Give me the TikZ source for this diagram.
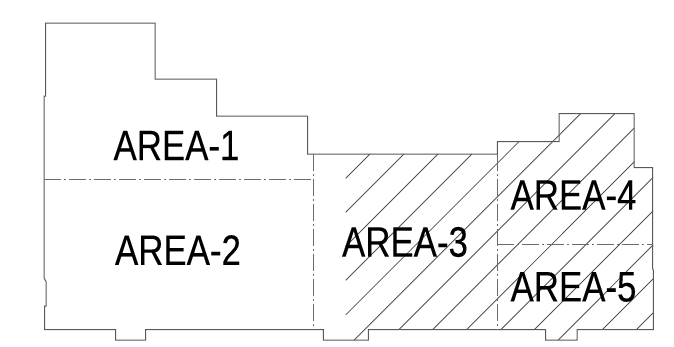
\documentclass[tikz,border=0pt]{standalone}
\usepackage{fontspec}
\setmainfont{Liberation Sans}[FakeBold=0.2]
\tikzset{
  wall/.style={draw=black!65,line width=1pt,line join=miter},
  split/.style={draw=black!58,line width=1pt,dash pattern=on 17pt off 3pt on 2pt off 3pt},
  hatchline/.style={draw=black!68,line width=0.85pt},
  arealabel/.style={font=\fontsize{42.5}{42.5}\selectfont,xscale=0.82,transform shape,inner sep=0pt,text=black}
}
\begin{document}
\begin{tikzpicture}[x=1pt,y=-1pt]
\useasboundingbox (0,0) rectangle (674,346);
\fill[white] (0,0) rectangle (674,346);
% hatching
\foreach \sx/\sy/\ex/\ey in {
 370/154/345.7/178.3, 404/154/345.7/212.3, 438/154/345.7/246.3, 472/154/345.7/280.3,
 519/141.6/345.7/314.9, 580.7/113.5/354.2/340, 615/113.5/399/329.5,
 634/128.3/432.7/329.5, 634/162/466.7/329.5, 653/177.5/500.5/330, 653/211/534.5/329.5,
 653/245/558.3/340, 653/279/602.5/329.5, 653/313/636.5/329.5}{
  \draw[hatchline] (\sx,\sy) -- (\ex,\ey);
}
% outline
\draw[wall] (45.5,23) -- (155,23) -- (155,79) -- (216.5,79) -- (216.5,116) -- (307.5,116)
 -- (307.5,154) -- (497.3,154) -- (497.3,141.6) -- (559,141.6) -- (559,113.5) -- (634,113.5)
 -- (634,167.5) -- (652.7,167.5) -- (652.7,269) -- (653.3,270) -- (653.3,329.5) -- (577,329.5)
 -- (577,340) -- (545.7,340) -- (545.7,329.5) -- (368.3,329.5) -- (368.3,340) -- (323.3,340)
 -- (323.3,329.5) -- (145.7,329.5) -- (145.7,340) -- (115.7,340) -- (115.7,329.5) -- (44.5,329.5)
 -- (44.5,306) -- (46,306) -- (46,281.5) -- (44,278) -- (44,96) -- (45.5,96) -- cycle;
% splits
\draw[split] (44,179.7) -- (313.7,179.7);
\draw[split] (313.7,154) -- (313.7,329.5);
\draw[split] (497.3,154) -- (497.3,329.5);
\draw[split] (497.3,244.7) -- (652.7,244.7);
% labels
\node[arealabel] (a1) at (176.5,145.5) {AREA-1};
\node[arealabel] (a2) at (178,250) {AREA-2};
\node[arealabel] (a3) at (405,242) {AREA-3};
\node[arealabel] (a4) at (573.5,195) {AREA-4};
\node[arealabel] (a5) at (573.5,287) {AREA-5};
\end{tikzpicture}
\end{document}
